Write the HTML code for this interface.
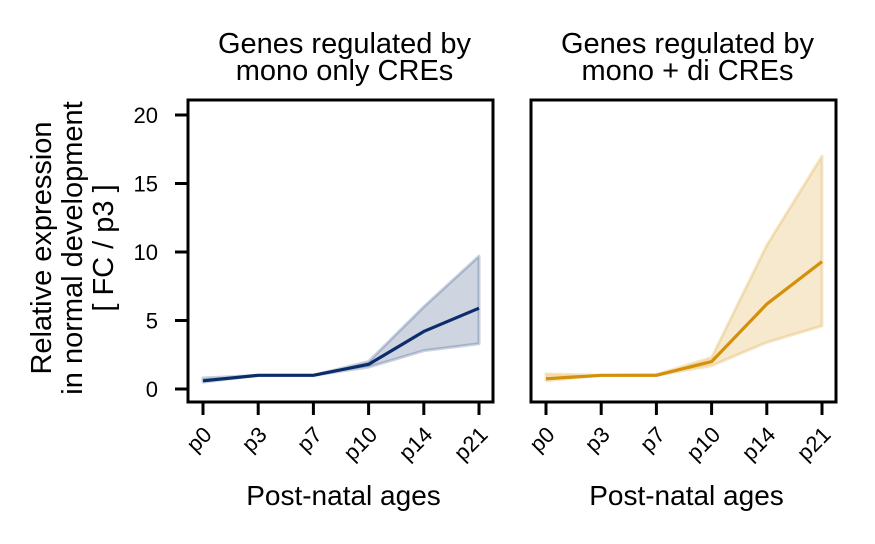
<!DOCTYPE html>
<html><head><meta charset="utf-8"><style>
html,body{margin:0;padding:0;background:#fff;}
svg{display:block;font-family:"Liberation Sans",Arial,sans-serif;}
</style></head><body>
<svg id="chart" width="875" height="544" viewBox="0 0 875 544"></svg>
<script>
const categories=["p0","p3","p7","p10","p14","p21"];
const yTicks=[0,5,10,15,20];
const monoMean=[0.6,1,1,1.8,4.2,5.9];
const monoLow=[0.5,1,1,1.6,2.8,3.3];
const monoHigh=[0.8,1,1,2.0,6.0,9.7];
const diMean=[0.75,1,1,2.0,6.2,9.3];
const diLow=[0.6,1,1,1.7,3.4,4.6];
const diHigh=[1.1,1,1.05,2.3,10.5,17.0];
const titles=[["Genes regulated by","mono only CREs"],["Genes regulated by","mono + di CREs"]];

const NS="http://www.w3.org/2000/svg";
const svg=document.getElementById('chart');
function mk(tag,attrs,parent){const e=document.createElementNS(NS,tag);for(const k in attrs)e.setAttribute(k,attrs[k]);(parent||svg).appendChild(e);return e;}
const plotTop=100,plotBottom=402;
function yScale(v){return 389-v*(389-115)/20;}
const panels=[
 {x0:188,x1:493,first:203,step:55.2,mean:monoMean,lo:monoLow,hi:monoHigh,color:"#0b2d6b",fill:"rgba(11,45,107,0.2)",edge:"rgba(11,45,107,0.22)",name:"mono-only"},
 {x0:531,x1:836,first:546,step:55.2,mean:diMean,lo:diLow,hi:diHigh,color:"#d4900a",fill:"rgba(212,144,10,0.2)",edge:"rgba(212,144,10,0.22)",name:"mono-di"}
];
panels.forEach((p,pi)=>{
 const g=mk('g',{});
 
 
 const xs=i=>p.first+i*p.step;
 let d="";
 p.hi.forEach((v,i)=>{d+=(i?"L":"M")+xs(i)+","+yScale(v);});
 for(let i=p.lo.length-1;i>=0;i--)d+="L"+xs(i)+","+yScale(p.lo[i]);
 const band=mk('path',{d:d+"Z",fill:p.fill,stroke:p.edge,"stroke-width":3,"stroke-linejoin":"round"},g);
 
 
 const line=mk('polyline',{points:p.mean.map((v,i)=>xs(i)+","+yScale(v)).join(" "),fill:"none",stroke:p.color,"stroke-width":3.2,"stroke-linejoin":"round"},g);
 
 
 const box=mk('rect',{x:p.x0,y:plotTop,width:p.x1-p.x0,height:plotBottom-plotTop,fill:"none",stroke:"#000","stroke-width":3},g);
 
 
 categories.forEach((c,i)=>{
  mk('line',{x1:xs(i),x2:xs(i),y1:plotBottom,y2:plotBottom+13,stroke:"#000","stroke-width":3},g);
  const t=mk('text',{x:0,y:0,"font-size":22,"text-anchor":"end",transform:`translate(${xs(i)+10},${plotBottom+34}) rotate(-45)`},g);
  t.textContent=c;
  
  
 });
 if(pi===0){
  yTicks.forEach(v=>{
   mk('line',{x1:p.x0-13,x2:p.x0,y1:yScale(v),y2:yScale(v),stroke:"#000","stroke-width":3},g);
   const t=mk('text',{x:158,y:yScale(v)+8,"font-size":22,"text-anchor":"end"},g);
   t.textContent=v;
   
   
  });
 }
 const cx=(p.x0+p.x1)/2+4;
 titles[pi].forEach((s,k)=>{
  const t=mk('text',{x:cx,y:53+k*27,"font-size":29,"text-anchor":"middle"},g);
  t.textContent=s;
  
  
 });
 const xl=mk('text',{x:cx-1,y:505,"font-size":28,"text-anchor":"middle"},g);
 xl.textContent="Post-natal ages";
 
 
});
["Relative expression","in normal development","[ FC / p3 ]"].forEach((s,k)=>{
 const t=mk('text',{x:0,y:0,"font-size":29,"text-anchor":"middle",transform:`translate(${51+k*31},248) rotate(-90)`});
 t.textContent=s;
 
 
});
</script>
</body></html>
